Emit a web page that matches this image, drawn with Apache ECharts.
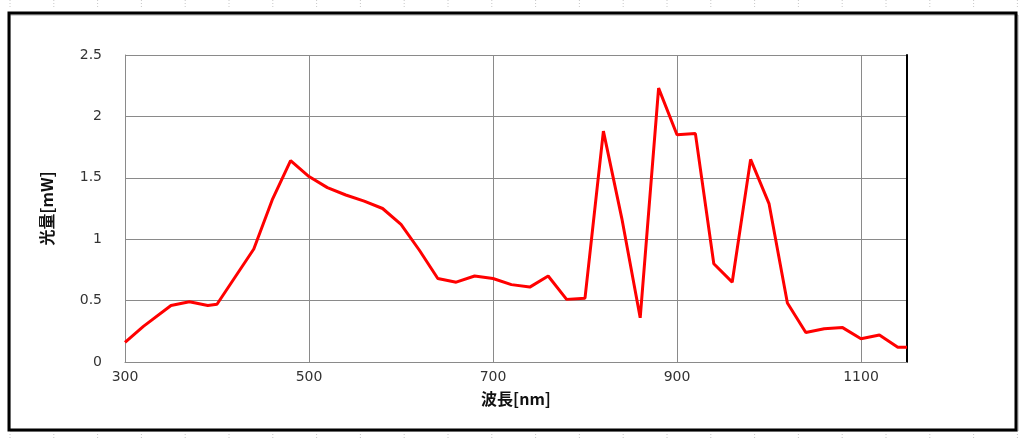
<!DOCTYPE html>
<html>
<head>
<meta charset="utf-8">
<script src="https://cdn.jsdelivr.net/npm/echarts@6/dist/echarts.min.js"></script>
<style>
  html, body { margin: 0; padding: 0; background: #fff; }
  #main { width: 1024px; height: 438px; }
</style>
</head>
<body>
<div id="main"></div>
<script>
// 波長 [nm]
var wavelength = [300, 320, 350, 370, 390, 400, 440, 460, 480, 500,
  520, 540, 560, 580, 600, 620, 640, 660, 680, 700,
  720, 740, 760, 780, 800, 820, 840, 860, 880, 900,
  920, 940, 960, 980, 1000, 1020, 1040, 1060, 1080, 1100,
  1120, 1140, 1150];
// 光量 [mW]
var power = [0.16, 0.29, 0.46, 0.49, 0.46, 0.47, 0.92, 1.32, 1.64, 1.51,
  1.42, 1.36, 1.31, 1.25, 1.12, 0.91, 0.68, 0.65, 0.70, 0.68,
  0.63, 0.61, 0.70, 0.51, 0.52, 1.88, 1.17, 0.36, 2.23, 1.85,
  1.86, 0.80, 0.65, 1.65, 1.29, 0.48, 0.24, 0.27, 0.28, 0.19,
  0.22, 0.12, 0.12];
var xTicks = [300, 500, 700, 900, 1100];
var yTicks = [0, 0.5, 1, 1.5, 2, 2.5];

var myChart = echarts.init(document.getElementById('main'));

var seriesData = [];
for (var i = 0; i < wavelength.length; i++) {
  seriesData.push([wavelength[i], power[i]]);
}

// ruler marks above and below the frame
var marks = [];
for (var k = 0; k < 24; k++) {
  var mx = 10 + k * 43.8;
  marks.push({ type: 'line', shape: { x1: mx, y1: 0, x2: mx, y2: 8 },
    style: { stroke: '#c8c8c8', lineWidth: 1, lineDash: [1, 2] } });
  marks.push({ type: 'line', shape: { x1: mx, y1: 434, x2: mx, y2: 438 },
    style: { stroke: '#c8c8c8', lineWidth: 1, lineDash: [1, 2] } });
}

var option = {
  backgroundColor: '#fff',
  animation: false,
  graphic: marks.concat([
    { type: 'rect', shape: { x: 10, y: 15, width: 1008, height: 416 },
      style: { fill: 'none', stroke: '#aaa', lineWidth: 1 } },
    { type: 'rect', shape: { x: 9, y: 13, width: 1007, height: 417 },
      style: { fill: 'none', stroke: '#000', lineWidth: 3 } }
  ]),
  grid: { left: 125, right: 117, top: 55, bottom: 76, show: false },
  xAxis: {
    type: 'value',
    min: 300, max: 1150, interval: 200,
    name: '波長[nm]',
    nameLocation: 'middle',
    nameGap: 29,
    nameTextStyle: { fontFamily: 'Noto Sans CJK JP', fontWeight: 'bold', fontSize: 16, color: '#111' },
    axisLine: { show: true, lineStyle: { color: '#8a8a8a', width: 1 } },
    axisTick: { show: false },
    axisLabel: {
      margin: 8, fontFamily: 'DejaVu Sans', fontSize: 14, color: '#333',
      formatter: function (v) { return xTicks.indexOf(v) >= 0 ? String(v) : ''; }
    },
    splitLine: { show: true, lineStyle: { color: '#8a8a8a', width: 1 } }
  },
  yAxis: [{
    type: 'value',
    min: 0, max: 2.5, interval: 0.5,
    name: '光量[mW]',
    nameLocation: 'middle',
    nameGap: 70,
    nameRotate: 90,
    nameTextStyle: { fontFamily: 'Noto Sans CJK JP', fontWeight: 'bold', fontSize: 16, color: '#111' },
    axisLine: { show: true, lineStyle: { color: '#8a8a8a', width: 1 } },
    axisTick: { show: false },
    axisLabel: {
      margin: 23, fontFamily: 'DejaVu Sans', fontSize: 14, color: '#333',
      formatter: function (v) { return yTicks.indexOf(v) >= 0 ? String(v) : ''; }
    },
    splitLine: { show: true, lineStyle: { color: '#8a8a8a', width: 1 } }
  }, {
    type: 'value',
    position: 'right',
    min: 0, max: 2.5, interval: 0.5,
    axisLine: { show: true, lineStyle: { color: '#000', width: 2 } },
    axisTick: { show: false },
    axisLabel: { show: false },
    splitLine: { show: false }
  }],
  series: [{
    type: 'line',
    yAxisIndex: 0,
    data: seriesData,
    showSymbol: false,
    lineStyle: { color: '#f00', width: 3 },
    itemStyle: { color: '#f00' }
  }]
};

myChart.setOption(option);
</script>
</body>
</html>
